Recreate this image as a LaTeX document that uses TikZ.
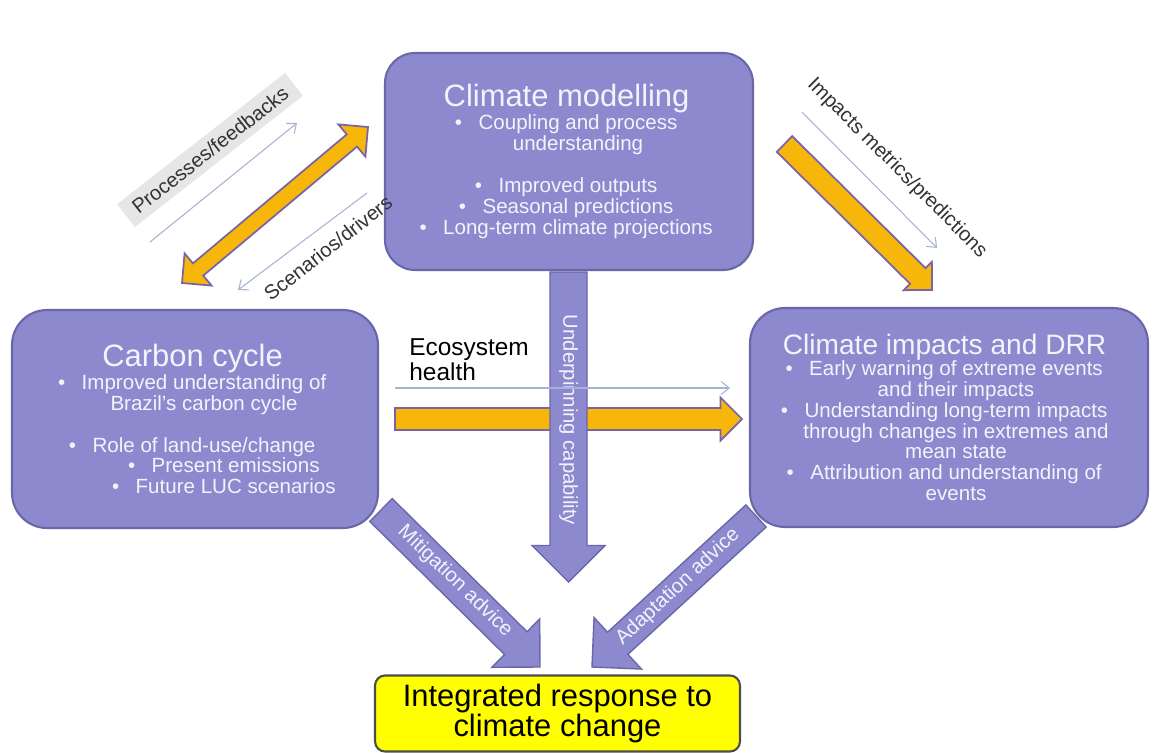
\documentclass[tikz,border=0pt]{standalone}
\usepackage{fontspec}
\setmainfont{Liberation Sans}
\usetikzlibrary{arrows.meta,calc}
\definecolor{boxfill}{HTML}{8C89CF}
\definecolor{boxline}{HTML}{6A67A8}
\definecolor{boxtext}{HTML}{F3F3FB}
\definecolor{flowfill}{HTML}{F7B60A}
\definecolor{flowline}{HTML}{7A64A8}
\definecolor{thinline}{HTML}{A7B3D3}
\definecolor{tagfill}{HTML}{E6E6E6}
\definecolor{respfill}{HTML}{FFFF00}
\definecolor{respline}{HTML}{4D4D4D}

% hanging bullet and box title
\newcommand{\bullitem}{\llap{\textbullet\hspace{0.8em}}}
\newcommand{\boxtitle}[2][17.6]{{\fontsize{#1}{20}\selectfont #2}\hspace*{13pt}}

% block arrow: [style]{from}{to}{shaft half width}{head half width}
\newcommand{\blockarrow}[5][]{%
  \coordinate (ba-h) at ($(#3)!#5!(#2)$);
  \draw[#1] ($(#2)!#4!90:(#3)$) -- ($(ba-h)!#4!-90:(#2)$) -- ($(ba-h)!#5!-90:(#2)$)
    -- (#3) -- ($(ba-h)!#5!90:(#2)$) -- ($(ba-h)!#4!90:(#2)$) -- ($(#2)!#4!-90:(#3)$) -- cycle;
}
\newcommand{\twowayarrow}[5][]{%
  \coordinate (ba-a) at ($(#2)!#5!(#3)$);
  \coordinate (ba-b) at ($(#3)!#5!(#2)$);
  \draw[#1] (#2) -- ($(ba-a)!#5!90:(#3)$) -- ($(ba-a)!#4!90:(#3)$) -- ($(ba-b)!#4!-90:(#2)$)
    -- ($(ba-b)!#5!-90:(#2)$) -- (#3) -- ($(ba-b)!#5!90:(#2)$) -- ($(ba-b)!#4!90:(#2)$)
    -- ($(ba-a)!#4!-90:(#3)$) -- ($(ba-a)!#5!-90:(#3)$) -- cycle;
}

\tikzset{
  theme/.style={draw=boxline, line width=1.2pt, fill=boxfill, rounded corners=0.6cm},
  themetext/.style={text=boxtext, align=center, font=\fontsize{11.7}{11.9}\selectfont},
  resp/.style={draw=respline, line width=1.2pt, fill=respfill, rounded corners=0.2cm,
    align=center, font=\fontsize{17.6}{17}\selectfont},
  flow/.style={fill=flowfill, draw=flowline, line width=1pt},
  pflow/.style={fill=boxfill, draw=boxline, line width=0.8pt},
  thinflow/.style={draw=thinline, line width=0.6pt, -{Straight Barb[length=1.6mm,width=2.6mm]}},
  tag/.style={font=\fontsize{11.5}{12}\selectfont, text=black!80, inner sep=2pt},
  arrowtext/.style={font=\fontsize{11.5}{12}\selectfont, text=boxtext, inner sep=0pt},
}

\begin{document}
\begin{tikzpicture}[x=0.02cm, y=-0.02cm]
\path[fill=white] (0,0) rectangle (1153,753);
\useasboundingbox (0,0) rectangle (1153,753);

% theme boxes
\node[theme, minimum width=7.36cm, minimum height=4.34cm] (clim) at (569,161.5) {};
\node[theme, rounded corners=0.7cm, minimum width=7.32cm, minimum height=4.36cm] (carb) at (195,419) {};
\node[theme, rounded corners=0.7cm, minimum width=7.96cm, minimum height=4.38cm] (imp) at (949,417.5) {};
\node[resp, minimum width=7.3cm, minimum height=1.52cm] (resp) at (557.5,713.5) {Integrated response to\\climate change};

\node[themetext] (clim-txt) at ([xshift=0.18cm]clim.center) {\boxtitle{Climate modelling}\\
  \bullitem Coupling and process\\
  understanding\\[11.9pt]
  \bullitem Improved outputs\\
  \bullitem Seasonal predictions\\
  \bullitem Long-term climate projections};
\node[themetext] (carb-txt) at ([xshift=0.18cm]carb.center) {\boxtitle{Carbon cycle}\\
  \bullitem Improved understanding of\\
  Brazil’s carbon cycle\\[11.9pt]
  \bullitem Role of land-use/change\\
  \hspace*{36pt}\bullitem Present emissions\\
  \hspace*{36pt}\bullitem Future LUC scenarios};
\node[themetext] (imp-txt) at ([xshift=0.14cm]imp.center) {\boxtitle[16]{Climate impacts and DRR}\\
  \bullitem Early warning of extreme events\\
  and their impacts\\
  \bullitem Understanding long-term impacts\\
  through changes in extremes and\\
  mean state\\
  \bullitem Attribution and understanding of\\
  events};

% arrow ends
\coordinate (fb-carb) at (182,283);
\coordinate (fb-clim) at (368,127);
\coordinate (pred-s) at (784.5,144);
\coordinate (pred-e) at (932,290);
\coordinate (eco-s) at (395,419);
\coordinate (eco-e) at (742,419);
\coordinate (cap-s) at (568.5,272);
\coordinate (cap-e) at (568.5,582);
\coordinate (mit-s) at (381,510);
\coordinate (mit-e) at (540,667);
\coordinate (ada-s) at (756,516);
\coordinate (ada-e) at (592,667);

% block arrows
\twowayarrow[flow]{fb-carb}{fb-clim}{0.16cm}{0.42cm}
\blockarrow[flow]{pred-s}{pred-e}{0.22cm}{0.40cm}
\blockarrow[flow]{eco-s}{eco-e}{0.22cm}{0.43cm}
\blockarrow[pflow]{cap-s}{cap-e}{0.37cm}{0.73cm}
\blockarrow[pflow]{mit-s}{mit-e}{0.32cm}{0.68cm}
\blockarrow[pflow]{ada-s}{ada-e}{0.30cm}{0.70cm}

\node[arrowtext, rotate=-90] (underpin) at (568.5,420) {Underpinning capability};
\node[arrowtext, rotate=-44] (mitig) at (455,581) {Mitigation advice};
\node[arrowtext, rotate=43] (adapt) at (678,587) {Adaptation advice};

% thin arrows and labels
\coordinate (fbline-s) at (150,242);
\coordinate (fbline-e) at (297,123);
\coordinate (scline-s) at (367,193);
\coordinate (scline-e) at (238,290);
\coordinate (predline-s) at (802,112);
\coordinate (predline-e) at (937,248);
\coordinate (ecoline-s) at (395,388);
\coordinate (ecoline-e) at (730,388);
\draw[thinflow] (fbline-s) -- (fbline-e);
\draw[thinflow] (scline-s) -- (scline-e);
\draw[thinflow] (predline-s) -- (predline-e);
\draw[thinflow] (ecoline-s) -- (ecoline-e);

\node[tag, fill=tagfill, inner xsep=6pt, inner ysep=4pt, rotate=38] (procfb) at (210,150) {Processes/feedbacks};
\node[tag, rotate=38] (scendr) at (328,248) {Scenarios/drivers};
\node[tag, rotate=-45] (impmet) at (897,168) {Impacts metrics/predictions};
\node[font=\fontsize{13.9}{14.2}\selectfont, align=left, anchor=west, inner sep=0pt] (eco) at (409,359.5) {Ecosystem\\health};

\end{tikzpicture}
\end{document}
